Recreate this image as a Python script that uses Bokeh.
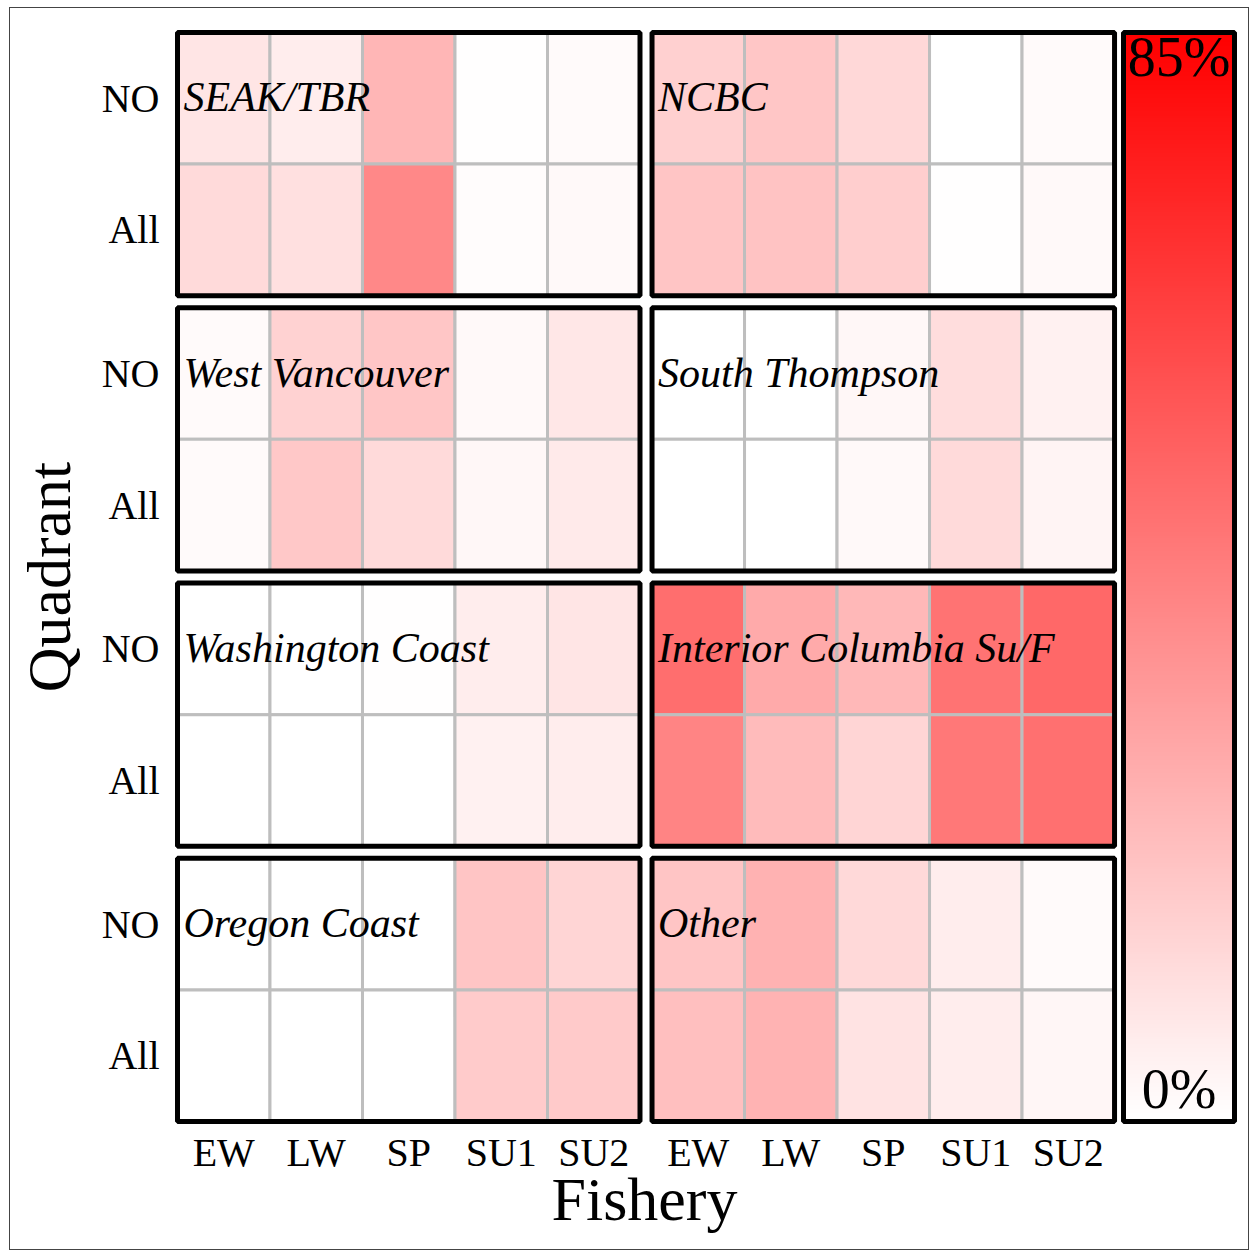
import numpy as np
from bokeh.plotting import figure
from bokeh.models import Range1d, FixedTicker, LinearColorMapper, ColumnDataSource, Title
from bokeh.core.properties import value
from bokeh.embed import file_html
from bokeh.resources import INLINE

# ---------------- data ----------------
fisheries = ["EW", "LW", "SP", "SU1", "SU2"]
quadrants = ["NO", "All"]
stocks = ["SEAK/TBR", "NCBC", "West Vancouver", "South Thompson",
          "Washington Coast", "Interior Columbia Su/F", "Oregon Coast", "Other"]

# percent values per fishery (EW, LW, SP, SU1, SU2)
seak_no = [8.7, 6.0, 24.3, 0.5, 1.7]
seak_all = [12.3, 10.3, 39.7, 1.3, 2.0]
ncbc_no = [15.7, 19.0, 13.0, 0.0, 1.7]
ncbc_all = [19.3, 20.0, 16.3, 0.5, 2.0]
wvan_no = [1.7, 15.0, 19.0, 2.3, 8.0]
wvan_all = [1.7, 18.3, 12.3, 2.7, 7.0]
sthom_no = [0.0, 0.0, 2.7, 11.3, 4.7]
sthom_all = [0.0, 0.0, 2.3, 12.3, 3.7]
wash_no = [0.0, 0.0, 0.5, 6.0, 8.7]
wash_all = [0.0, 0.0, 0.0, 4.7, 6.0]
icol_no = [48.3, 28.3, 23.7, 46.7, 50.3]
icol_all = [41.0, 22.7, 14.0, 45.0, 47.7]
oreg_no = [0.0, 0.0, 0.0, 19.3, 14.0]
oreg_all = [0.0, 0.0, 0.0, 17.3, 17.7]
other_no = [19.3, 25.7, 12.7, 6.3, 1.7]
other_all = [21.3, 25.3, 9.3, 6.0, 3.0]

values_no = [seak_no, ncbc_no, wvan_no, sthom_no, wash_no, icol_no, oreg_no, other_no]
values_all = [seak_all, ncbc_all, wvan_all, sthom_all, wash_all, icol_all, oreg_all, other_all]

scale_min, scale_max = 0.0, 85.0
scale_labels = ["0%", "85%"]

# ---------------- layout constants ----------------
NC = len(fisheries)
GX = 0.13          # gap between panel columns (x units)
GY = 0.091         # gap between panel rows (y units)
CBG = 0.097        # gap to colour bar
CBW = 1.2          # colour bar width
PX = 0.043
PY = 0.030
NROWS = 4
PANEL_H = 2.0
TOTAL_H = NROWS * PANEL_H + (NROWS - 1) * GY
CB_X0 = 2 * NC + GX + CBG
CB_X1 = CB_X0 + CBW

palette = ["#%02x%02x%02x" % (255, 255 - i, 255 - i) for i in range(256)]
mapper = LinearColorMapper(palette=palette, low=scale_min, high=scale_max)

W, H = 1240, 1243
p = figure(width=W, height=H, output_backend="svg", toolbar_location=None,
           x_range=Range1d(-PX, CB_X1 + PX), y_range=Range1d(-PY, TOTAL_H + PY),
           min_border_left=163, min_border_right=12, min_border_top=20, min_border_bottom=126)
p.styles = {"border": "1px solid #444", "margin-left": "9px", "margin-top": "7px"}
p.background_fill_color = "white"
p.border_fill_color = "white"
p.outline_line_color = None
p.xgrid.visible = False
p.ygrid.visible = False

# ---------------- cells ----------------
left, right, bottom, top, val = [], [], [], [], []
pl, pr, pb, pt = [], [], [], []
lab_x, lab_y = [], []
for k, name in enumerate(stocks):
    row, col = divmod(k, 2)
    x0 = col * (NC + GX)
    y0 = (NROWS - 1 - row) * (PANEL_H + GY)
    for j in range(NC):
        for q, vals in ((1, values_no[k]), (0, values_all[k])):
            left.append(x0 + j)
            right.append(x0 + j + 1)
            bottom.append(y0 + q)
            top.append(y0 + q + 1)
            val.append(vals[j])
    pl.append(x0); pr.append(x0 + NC); pb.append(y0); pt.append(y0 + PANEL_H)
    lab_x.append(x0 + 0.065)
    lab_y.append(y0 + PANEL_H - 0.494)

src = ColumnDataSource(dict(left=left, right=right, bottom=bottom, top=top, val=val))
p.quad(left="left", right="right", bottom="bottom", top="top", source=src,
       fill_color={"field": "val", "transform": mapper}, line_color="#BEBEBE", line_width=3)

# colour bar gradient
grad = np.linspace(scale_min, scale_max, 500).reshape(-1, 1)
p.image(image=[grad], x=CB_X0, y=0, dw=CBW, dh=TOTAL_H, color_mapper=mapper)

# panel borders
p.quad(left=pl + [CB_X0], right=pr + [CB_X1], bottom=pb + [0], top=pt + [TOTAL_H],
       fill_color=None, line_color="black", line_width=5)

FONT = value("Liberation Serif")
p.text(x=lab_x, y=lab_y, text=stocks, text_font=FONT, text_font_style="italic",
       text_font_size="42px", text_align="left", text_baseline="alphabetic", text_color="black")

cbx = (CB_X0 + CB_X1) / 2
p.text(x=[cbx, cbx], y=[0.251, TOTAL_H - 0.19], text=scale_labels, text_font=FONT,
       text_font_size="56px", text_align="center", text_baseline="alphabetic", text_color="black")

# ---------------- axes ----------------
xt, xl = [], {}
for col in range(2):
    for j, f in enumerate(fisheries):
        t = col * (NC + GX) + j + 0.5
        xt.append(t)
        xl[t] = f
yt, yl = [], {}
for r in range(NROWS):
    y0 = r * (PANEL_H + GY)
    yt += [y0 + 0.5, y0 + 1.5]
    yl[y0 + 0.5] = quadrants[1]
    yl[y0 + 1.5] = quadrants[0]

p.xaxis.ticker = FixedTicker(ticks=xt)
p.xaxis.major_label_overrides = xl
p.yaxis.ticker = FixedTicker(ticks=yt)
p.yaxis.major_label_overrides = yl
p.yaxis.axis_label = "Quadrant"
for ax in (p.xaxis, p.yaxis):
    ax.axis_line_color = None
    ax.major_tick_line_color = None
    ax.minor_tick_line_color = None
    ax.major_label_text_font = "Liberation Serif"
    ax.major_label_text_font_size = "40px"
    ax.major_label_text_color = "black"
    ax.axis_label_text_font = "Liberation Serif"
    ax.axis_label_text_font_size = "62px"
    ax.axis_label_text_font_style = "normal"
    ax.axis_label_text_color = "black"
p.xaxis.major_label_standoff = -2
p.yaxis.major_label_standoff = 8
p.yaxis.axis_label_standoff = 16

# x-axis title, centred under the two panel columns (not the colour bar)
xtitle = Title(text="Fishery", align="left", offset=378,
               text_font="Liberation Serif", text_font_size="62px",
               text_font_style="normal", text_color="black")
try:
    xtitle.standoff = -30
except Exception:
    xtitle.standoff = 0
p.add_layout(xtitle, "below")

open("out.html", "w").write(file_html(p, INLINE))
